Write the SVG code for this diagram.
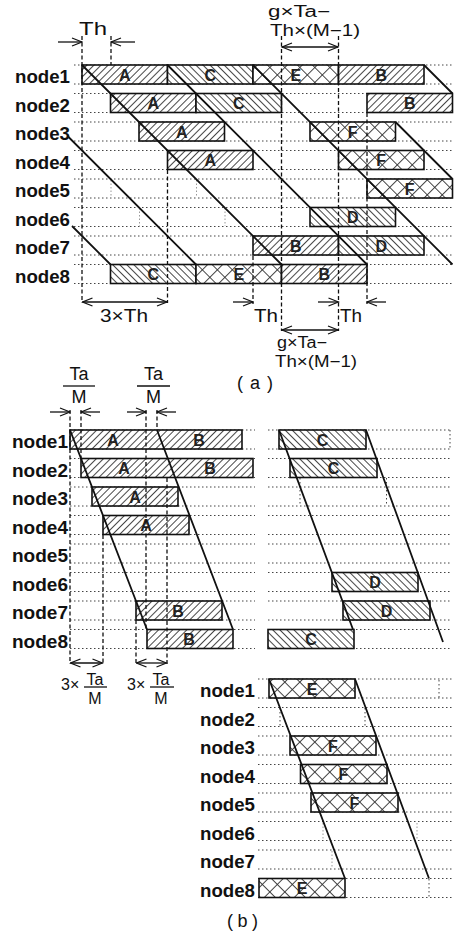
<svg xmlns="http://www.w3.org/2000/svg" width="455" height="937" viewBox="0 0 455 937">
<defs>
<pattern id="pf" width="5" height="5" patternUnits="userSpaceOnUse" patternTransform="rotate(45)"><rect width="5" height="5" fill="#fff"/><line x1="2.5" y1="0" x2="2.5" y2="5" stroke="#333" stroke-width="0.9"/></pattern>
<pattern id="pb" width="5" height="5" patternUnits="userSpaceOnUse" patternTransform="rotate(-45)"><rect width="5" height="5" fill="#fff"/><line x1="2.5" y1="0" x2="2.5" y2="5" stroke="#333" stroke-width="0.9"/></pattern>
<pattern id="px" width="10.6" height="10.6" patternUnits="userSpaceOnUse" patternTransform="rotate(45)"><rect width="10.6" height="10.6" fill="#fff"/><line x1="5.3" y1="0" x2="5.3" y2="10.6" stroke="#333" stroke-width="0.9"/><line x1="0" y1="5.3" x2="10.6" y2="5.3" stroke="#333" stroke-width="0.9"/></pattern>
<marker id="ah" viewBox="0 0 12 10" refX="11" refY="5" markerWidth="12" markerHeight="10" markerUnits="userSpaceOnUse" orient="auto-start-reverse"><path d="M1 1 L11 5 L1 9" fill="none" stroke="#111" stroke-width="1.3"/></marker>
</defs>
<style>
.bar{stroke:#111;stroke-width:1.6}
.f{fill:url(#pf)}
.b{fill:url(#pb)}
.x{fill:url(#px)}
.dot{stroke:#444;stroke-width:1;stroke-dasharray:1.5 2.5;fill:none}
.fdot{stroke:#999;stroke-width:1;stroke-dasharray:1.5 2;fill:none}
.dash{stroke:#111;stroke-width:1.3;stroke-dasharray:4 2.5;fill:none}
.ln{stroke:#111;stroke-width:1.8;fill:none}
.arr{stroke:#111;stroke-width:1.3;fill:none}
.lbl{font-family:"Liberation Sans",Arial,sans-serif;font-weight:bold;font-size:18px;fill:#111}
.let{font-family:"Liberation Sans",Arial,sans-serif;font-weight:bold;font-size:16px;text-anchor:middle;fill:#222}
.ann{font-family:"Liberation Sans",Arial,sans-serif;font-size:18px;fill:#111}
.an2{font-family:"Liberation Sans",Arial,sans-serif;font-size:16px;fill:#111}
.sm{font-family:"Liberation Sans",Arial,sans-serif;font-size:16px;fill:#111}
</style>
<rect width="455" height="937" fill="#fff"/>

<!-- grid dotted lines -->
<g id="grid">
<path class="dot" d="M74 65H453M74 84H453M74 93.5H453M74 112.5H453M74 122H453M74 141H453M74 150.5H453M74 169.5H453M74 179H453M74 198H453M74 207.5H453M74 226.5H453M74 236H453M74 255H453M74 264.5H453M74 283.5H453"/>
<path class="dot" d="M70 430H255M70 449H255M70 458.5H255M70 477.5H255M70 487H255M70 506H255M70 515.5H255M70 534.5H255M70 544H255M70 563H255M70 572.5H255M70 591.5H255M70 601H255M70 620H255M70 629.5H255M70 648.5H255"/>
<path class="dot" d="M268 430H452M268 449H452M268 458.5H452M268 477.5H452M268 487H452M268 506H452M268 515.5H452M268 534.5H452M268 544H452M268 563H452M268 572.5H452M268 591.5H452M268 601H452M268 620H452M268 629.5H452M268 648.5H452M450 430V449M300 478V506M386.5 478V506"/>
<path class="dot" d="M258 679H452M258 698H452M258 707.5H452M258 726.5H452M258 736H452M258 755H452M258 764.5H452M258 783.5H452M258 793H452M258 812H452M258 821.5H452M258 840.5H452M258 850H452M258 869H452M258 878.5H452M258 897.5H452M439 680V698M280 708V726M365 708V726M429 879V898"/>
<path class="fdot" d="M111 180V197M196.5 180V197M139.5 208V226M225 208V226M323 823V840M417 823V840M332 851V868"/>
</g>

<!-- (a) -->
<g id="a-node1">
<text class="lbl" x="15" y="83" textLength="55" lengthAdjust="spacingAndGlyphs">node1</text>
<rect class="bar f" x="82" y="65" width="85.5" height="19"/>
<rect class="bar b" x="167.5" y="65" width="85.5" height="19"/>
<rect class="bar x" x="253" y="65" width="85.5" height="19"/>
<rect class="bar f" x="338.5" y="65" width="85.5" height="19"/>
<text class="let" x="124.75" y="80.5">A</text><text class="let" x="210.25" y="80.5">C</text><text class="let" x="295.75" y="80.5">E</text><text class="let" x="381.25" y="80.5">B</text>
</g>
<g id="a-node2">
<text class="lbl" x="15" y="111.5" textLength="55" lengthAdjust="spacingAndGlyphs">node2</text>
<rect class="bar f" x="110.5" y="93.5" width="85.5" height="19"/>
<rect class="bar b" x="196" y="93.5" width="85.5" height="19"/>
<rect class="bar f" x="367" y="93.5" width="85.5" height="19"/>
<text class="let" x="153.25" y="109">A</text><text class="let" x="238.75" y="109">C</text><text class="let" x="409.75" y="109">B</text>
</g>
<g id="a-node3">
<text class="lbl" x="15" y="140" textLength="55" lengthAdjust="spacingAndGlyphs">node3</text>
<rect class="bar f" x="139" y="122" width="85.5" height="19"/>
<rect class="bar x" x="310" y="122" width="85.5" height="19"/>
<text class="let" x="181.75" y="137.5">A</text><text class="let" x="352.75" y="137.5">F</text>
</g>
<g id="a-node4">
<text class="lbl" x="15" y="168.5" textLength="55" lengthAdjust="spacingAndGlyphs">node4</text>
<rect class="bar f" x="167.5" y="150.5" width="85.5" height="19"/>
<rect class="bar x" x="338.5" y="150.5" width="85.5" height="19"/>
<text class="let" x="210.25" y="166">A</text><text class="let" x="381.25" y="166">F</text>
</g>
<g id="a-node5">
<text class="lbl" x="15" y="197" textLength="55" lengthAdjust="spacingAndGlyphs">node5</text>
<rect class="bar x" x="367" y="179" width="85.5" height="19"/>
<text class="let" x="409.75" y="194.5">F</text>
</g>
<g id="a-node6">
<text class="lbl" x="15" y="225.5" textLength="55" lengthAdjust="spacingAndGlyphs">node6</text>
<rect class="bar b" x="310" y="207.5" width="85.5" height="19"/>
<text class="let" x="352.75" y="223">D</text>
</g>
<g id="a-node7">
<text class="lbl" x="15" y="254" textLength="55" lengthAdjust="spacingAndGlyphs">node7</text>
<rect class="bar f" x="253" y="236" width="85.5" height="19"/>
<rect class="bar b" x="338.5" y="236" width="85.5" height="19"/>
<text class="let" x="295.75" y="251.5">B</text><text class="let" x="381.25" y="251.5">D</text>
</g>
<g id="a-node8">
<text class="lbl" x="15" y="282.5" textLength="55" lengthAdjust="spacingAndGlyphs">node8</text>
<rect class="bar b" x="110.5" y="264.5" width="85.5" height="19"/>
<rect class="bar x" x="196" y="264.5" width="85.5" height="19"/>
<rect class="bar f" x="281.5" y="264.5" width="85.5" height="19"/>
<text class="let" x="153.25" y="280">C</text><text class="let" x="238.75" y="280">E</text><text class="let" x="324.25" y="280">B</text>
</g>

<!-- (b) upper -->
<g id="b1-node1">
<text class="lbl" x="12" y="448" textLength="56" lengthAdjust="spacingAndGlyphs">node1</text>
<rect class="bar f" x="70" y="430" width="172" height="19"/>
<rect class="bar b" x="279" y="430" width="87" height="19"/>
<text class="let" x="113" y="445.5">A</text><text class="let" x="199" y="445.5">B</text><text class="let" x="322.5" y="445.5">C</text>
</g>
<g id="b1-node2">
<text class="lbl" x="12" y="476.5" textLength="56" lengthAdjust="spacingAndGlyphs">node2</text>
<rect class="bar f" x="81" y="458.5" width="172" height="19"/>
<rect class="bar b" x="290" y="458.5" width="87" height="19"/>
<text class="let" x="124" y="474">A</text><text class="let" x="210" y="474">B</text><text class="let" x="333.5" y="474">C</text>
</g>
<g id="b1-node3">
<text class="lbl" x="12" y="505" textLength="56" lengthAdjust="spacingAndGlyphs">node3</text>
<rect class="bar f" x="92" y="487" width="86" height="19"/>
<text class="let" x="135" y="502.5">A</text>
</g>
<g id="b1-node4">
<text class="lbl" x="12" y="533.5" textLength="56" lengthAdjust="spacingAndGlyphs">node4</text>
<rect class="bar f" x="103" y="515.5" width="86" height="19"/>
<text class="let" x="146" y="531">A</text>
</g>
<g id="b1-node5">
<text class="lbl" x="12" y="562" textLength="56" lengthAdjust="spacingAndGlyphs">node5</text>
</g>
<g id="b1-node6">
<text class="lbl" x="12" y="590.5" textLength="56" lengthAdjust="spacingAndGlyphs">node6</text>
<rect class="bar b" x="332" y="572.5" width="86" height="19"/>
<text class="let" x="375" y="588">D</text>
</g>
<g id="b1-node7">
<text class="lbl" x="12" y="619" textLength="56" lengthAdjust="spacingAndGlyphs">node7</text>
<rect class="bar f" x="136" y="601" width="86" height="19"/>
<rect class="bar b" x="343" y="601" width="87" height="19"/>
<text class="let" x="178" y="616.5">B</text><text class="let" x="386.5" y="616.5">D</text>
</g>
<g id="b1-node8">
<text class="lbl" x="12" y="647.5" textLength="56" lengthAdjust="spacingAndGlyphs">node8</text>
<rect class="bar f" x="147" y="629.5" width="86" height="19"/>
<rect class="bar b" x="268" y="629.5" width="86" height="19"/>
<text class="let" x="189" y="645">B</text><text class="let" x="311" y="645">C</text>
</g>

<!-- (b) lower -->
<g id="b2-node1">
<text class="lbl" x="200" y="697" textLength="55" lengthAdjust="spacingAndGlyphs">node1</text>
<rect class="bar x" x="269" y="679" width="86" height="19"/>
<text class="let" x="312" y="694.5">E</text>
</g>
<g id="b2-node2"><text class="lbl" x="200" y="725.5" textLength="55" lengthAdjust="spacingAndGlyphs">node2</text></g>
<g id="b2-node3">
<text class="lbl" x="200" y="754" textLength="55" lengthAdjust="spacingAndGlyphs">node3</text>
<rect class="bar x" x="290" y="736" width="86" height="19"/>
<text class="let" x="333" y="751.5">F</text>
</g>
<g id="b2-node4">
<text class="lbl" x="200" y="782.5" textLength="55" lengthAdjust="spacingAndGlyphs">node4</text>
<rect class="bar x" x="300.5" y="764.5" width="86.5" height="19"/>
<text class="let" x="343.5" y="780">F</text>
</g>
<g id="b2-node5">
<text class="lbl" x="200" y="811" textLength="55" lengthAdjust="spacingAndGlyphs">node5</text>
<rect class="bar x" x="311" y="793" width="87" height="19"/>
<text class="let" x="354.5" y="808.5">F</text>
</g>
<g id="b2-node6"><text class="lbl" x="200" y="839.5" textLength="55" lengthAdjust="spacingAndGlyphs">node6</text></g>
<g id="b2-node7"><text class="lbl" x="200" y="868" textLength="55" lengthAdjust="spacingAndGlyphs">node7</text></g>
<g id="b2-node8">
<text class="lbl" x="200" y="896.5" textLength="55" lengthAdjust="spacingAndGlyphs">node8</text>
<rect class="bar x" x="259" y="878.5" width="86" height="19"/>
<text class="let" x="302" y="894">E</text>
</g>

<!-- dashed time markers -->
<g id="markers">
<path class="dash" d="M82 36V303M111 36V65M167.5 170V303M281.5 36V331M338.5 36V331M367 113V304M253 256V304"/>
<path class="dash" d="M70 410V664M81 410V458M146 410V629M157 410V430M103 535V664M167 478V664M136 620V664"/>
</g>

<!-- connectors -->
<g id="connectors">
<path class="ln" d="M82 65L281.5 264.5M167.5 65L367 264.5M253 65L452.5 264.5M424 65L452.5 93.5M395.5 122L452.5 179M67.5 136L196 264.5M72 226L110.5 264.5"/>
<path class="ln" d="M70 430L147 629.5M157 430L233 629.5M279 430L353 629.5M366 430L443 642"/>
<path class="ln" d="M269 679L345 878.5M355 679L429 878.5"/>
</g>

<!-- annotations -->
<g id="annotations">
<line class="arr" x1="58" y1="42" x2="82" y2="42" marker-end="url(#ah)"/>
<line class="arr" x1="135" y1="42" x2="111" y2="42" marker-end="url(#ah)"/>
<text class="ann" x="79" y="35" textLength="28" lengthAdjust="spacingAndGlyphs">Th</text>
<text class="an2" x="268" y="17" textLength="62" lengthAdjust="spacingAndGlyphs">g×Ta−</text>
<text class="an2" x="270" y="36" textLength="90" lengthAdjust="spacingAndGlyphs">Th×(M−1)</text>
<line class="arr" x1="282" y1="47" x2="338" y2="47" marker-start="url(#ah)" marker-end="url(#ah)"/>

<line class="arr" x1="82.5" y1="302" x2="167" y2="302" marker-start="url(#ah)" marker-end="url(#ah)"/>
<text class="ann" x="100" y="322" textLength="48" lengthAdjust="spacingAndGlyphs">3×Th</text>
<line class="arr" x1="233" y1="302" x2="253" y2="302" marker-end="url(#ah)"/>
<text class="ann" x="254" y="322" textLength="24" lengthAdjust="spacingAndGlyphs">Th</text>
<line class="arr" x1="318" y1="302" x2="338.5" y2="302" marker-end="url(#ah)"/>
<text class="ann" x="340" y="322" textLength="22" lengthAdjust="spacingAndGlyphs">Th</text>
<line class="arr" x1="386" y1="302" x2="367" y2="302" marker-end="url(#ah)"/>
<line class="arr" x1="282" y1="330" x2="338" y2="330" marker-start="url(#ah)" marker-end="url(#ah)"/>
<text class="an2" x="277" y="348" textLength="50" lengthAdjust="spacingAndGlyphs">g×Ta−</text>
<text class="an2" x="275" y="367" textLength="82" lengthAdjust="spacingAndGlyphs">Th×(M−1)</text>
<text class="ann" x="237" y="389" textLength="36" lengthAdjust="spacing">(a)</text>

<text class="ann" x="79" y="380" text-anchor="middle">Ta</text>
<line class="arr" x1="63" y1="386" x2="95" y2="386" stroke-width="1.6"/>
<text class="ann" x="79" y="403" text-anchor="middle">M</text>
<text class="ann" x="153.5" y="380" text-anchor="middle">Ta</text>
<line class="arr" x1="137" y1="386" x2="170" y2="386" stroke-width="1.6"/>
<text class="ann" x="153.5" y="403" text-anchor="middle">M</text>
<line class="arr" x1="50" y1="412" x2="70" y2="412" marker-end="url(#ah)"/>
<line class="arr" x1="100" y1="412" x2="81" y2="412" marker-end="url(#ah)"/>
<line class="arr" x1="127" y1="412" x2="146" y2="412" marker-end="url(#ah)"/>
<line class="arr" x1="176" y1="412" x2="157" y2="412" marker-end="url(#ah)"/>

<line class="arr" x1="70.5" y1="663" x2="102.5" y2="663" marker-start="url(#ah)" marker-end="url(#ah)"/>
<line class="arr" x1="136.5" y1="663" x2="166.5" y2="663" marker-start="url(#ah)" marker-end="url(#ah)"/>
<text class="sm" x="61" y="690">3×</text>
<text class="sm" x="95" y="684.5" text-anchor="middle">Ta</text>
<line class="arr" x1="84" y1="687" x2="107" y2="687" stroke-width="1.4"/>
<text class="sm" x="95" y="704" text-anchor="middle">M</text>
<text class="sm" x="127" y="690">3×</text>
<text class="sm" x="161" y="684.5" text-anchor="middle">Ta</text>
<line class="arr" x1="150" y1="687" x2="174" y2="687" stroke-width="1.4"/>
<text class="sm" x="161" y="704" text-anchor="middle">M</text>

<text class="ann" x="227" y="927" textLength="31" lengthAdjust="spacing">(b)</text>
</g>
</svg>
